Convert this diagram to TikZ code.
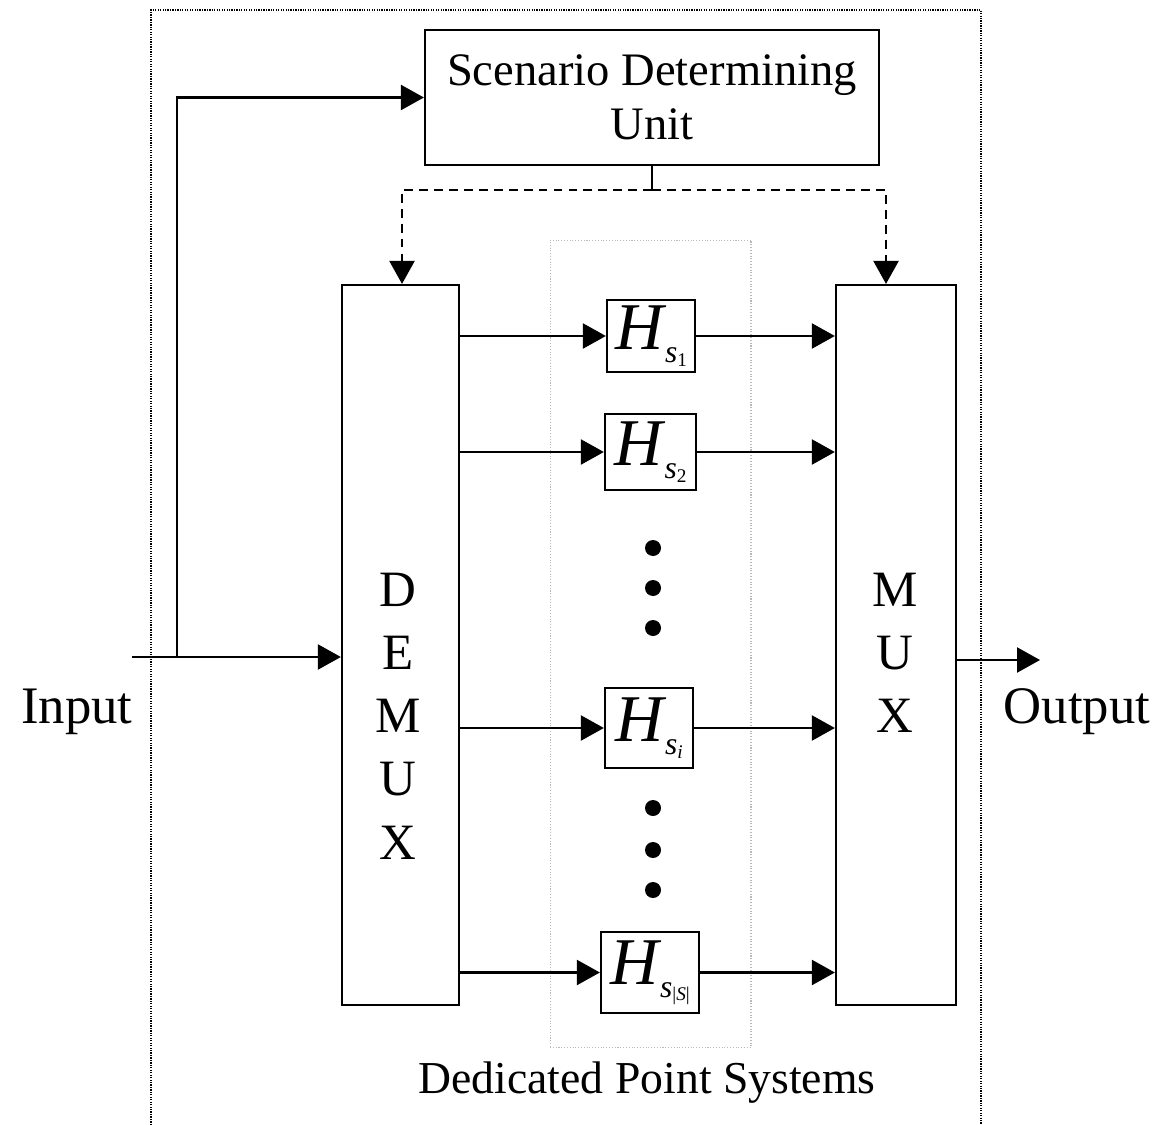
\documentclass[tikz,border=0pt]{standalone}
\usepackage{fontspec}
\setmainfont{Liberation Serif}
\usetikzlibrary{positioning,arrows.meta,calc}

\newcommand\hsub[1]{{\fontsize{38}{38}\selectfont\itshape H}\kern0.1em\raisebox{-7.4pt}{\fontsize{18}{18}\selectfont\itshape s\raisebox{-2pt}{\fontsize{11}{11}\selectfont\upshape #1}}}

\begin{document}
\begin{tikzpicture}[
  x=0.02cm,y=-0.02cm,
  >={Triangle[length=4.6mm,width=5mm]},
  blk/.style={draw,line width=1.3pt,inner sep=0pt},
  hsys/.style={draw,line width=1.3pt,inner sep=0pt,minimum width=1.78cm,minimum height=1.5cm},
  flow/.style={->,line width=1.3pt},
  ctrl/.style={->,line width=1.3pt,dash pattern=on 5pt off 3.5pt},
  lbl/.style={font=\fontsize{30}{36}\selectfont,inner sep=0pt},
  dot/.style={circle,fill,inner sep=0pt,minimum size=0.32cm}
]
  \useasboundingbox (0,0) rectangle (1159,1125);

  % frame round the whole system
  \draw[line width=1.1pt,dash pattern=on 0.7pt off 0.7pt] (151,1125) |- (981,10) -- (981,1125);
  \node[draw=gray!55,line width=0.6pt,dash pattern=on 0.6pt off 1pt,
        minimum width=4.02cm,minimum height=16.16cm] (dps) at (650.5,644) {};

  \node[blk,minimum width=9.08cm,minimum height=2.7cm,align=center,
        font=\fontsize{26.5}{31}\selectfont] (sdu) at (652,97.5) {Scenario Determining\\Unit};
  \node[blk,minimum width=2.34cm,minimum height=14.4cm] (demux) at (400.5,645) {};
  \node[blk,minimum width=2.4cm,minimum height=14.4cm] (mux) at (896,645) {};
  \node[font=\fontsize{29}{36}\selectfont,align=center,inner sep=0pt] (demuxlbl) at (398,716) {D\\E\\M\\U\\X};
  \node[font=\fontsize{29}{36}\selectfont,align=center,inner sep=0pt] (muxlbl) at (895,653) {M\\U\\X};

  \node[hsys,minimum width=1.76cm,minimum height=1.44cm] (h1) at (651,336) {\hsub{1}};
  \node[hsys,minimum width=1.82cm,minimum height=1.52cm] (h2) at (650.5,452) {\hsub{2}};
  \node[hsys,minimum width=1.76cm,minimum height=1.6cm] (hi) at (649,728) {\hsub{\itshape i}};
  \node[hsys,minimum width=1.96cm,minimum height=1.62cm] (hs) at (650,972.5) {\hsub{|\itshape S\upshape|}};

  \foreach \y [count=\k] in {548,588,628,808,850,890}
    \node[dot] (dot\k) at (653,\y) {};

  \node[lbl] (inlbl) at (77,712) {Input};
  \node[lbl] (outlbl) at (1077,712) {Output};
  \node[font=\fontsize{26}{30}\selectfont,inner sep=0pt] (dpslbl) at (647,1083) {Dedicated Point Systems};

  \coordinate (in) at (132,657);
  \coordinate (br) at (177,657);
  \coordinate (ctlrow) at (0,190);
  \coordinate (ctl) at (sdu.south |- ctlrow);
  \coordinate (out) at (1040,660);

  \draw[flow] (in) -- (in -| demux.west);
  \draw[flow] (br) |- (sdu.west);
  \draw[line width=1.3pt] (sdu.south) -- (ctl);
  \draw[ctrl] (ctl) -| ([xshift=0.03cm]demux.north);
  \draw[ctrl] (ctl) -| ([xshift=-0.2cm]mux.north);

  \foreach \h in {h1,h2,hi,hs}{
    \draw[flow] (demux.east |- \h.west) -- (\h.west);
    \draw[flow] (\h.east) -- (\h.east -| mux.west);
  }
  \draw[flow] (mux.east |- out) -- (out);
\end{tikzpicture}
\end{document}
